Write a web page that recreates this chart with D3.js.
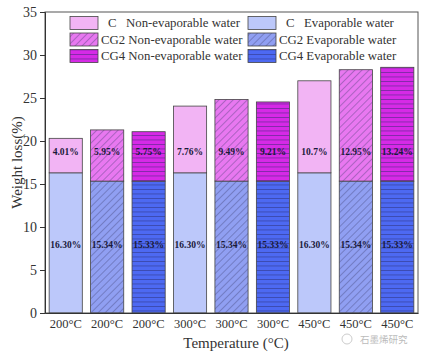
<!DOCTYPE html>
<html><head><meta charset="utf-8">
<script src="https://cdn.jsdelivr.net/npm/d3@7/dist/d3.min.js"></script>
<style>body{margin:0;background:#fff;} svg{display:block;}</style>
</head><body>
<svg id="c" width="423" height="357"></svg>
<script>
const categories = ["200°C","200°C","200°C","300°C","300°C","300°C","450°C","450°C","450°C"];
const groups = ["C","CG2","CG4","C","CG2","CG4","C","CG2","CG4"];
const evaporable = [16.30,15.34,15.33,16.30,15.34,15.33,16.30,15.34,15.33];
const nonEvaporable = [4.01,5.95,5.75,7.76,9.49,9.21,10.7,12.95,13.24];
const nonLabels = ["4.01%","5.95%","5.75%","7.76%","9.49%","9.21%","10.7%","12.95%","13.24%"];
const evapLabels = ["16.30%","15.34%","15.33%","16.30%","15.34%","15.33%","16.30%","15.34%","15.33%"];
const yTicks = [0,5,10,15,20,25,30,35];
const legendItems = [
  {g:"C",type:"non",desc:"Non-evaporable water"},
  {g:"C",type:"evap",desc:"Evaporable water"},
  {g:"CG2",type:"non",desc:"Non-evaporable water"},
  {g:"CG2",type:"evap",desc:"Evaporable water"},
  {g:"CG4",type:"non",desc:"Non-evaporable water"},
  {g:"CG4",type:"evap",desc:"Evaporable water"}
];

const colors = {
  C:{non:"#f2b4f4",evap:"#bcc8fa"},
  CG2:{non:"#e878f0",evap:"#909ff2"},
  CG4:{non:"#d62ae6",evap:"#4d69f2"}
};

const svg = d3.select("#c");
const m = {l:45,r:5,t:12,b:44};
const W = 423, H = 357;
const x = d3.scaleBand().domain(d3.range(categories.length)).range([m.l, W-m.r]).paddingInner(0.2).paddingOuter(0.1);
const y = d3.scaleLinear().domain([0,35]).range([H-m.b, m.t]);

const defs = svg.append("defs");
function pattern(id, bg, type){
  const sz = type==="diag"?5:4.5;
  const p = defs.append("pattern").attr("id",id).attr("patternUnits","userSpaceOnUse")
    .attr("width",sz).attr("height",sz);
  if(type==="diag") p.attr("patternTransform","rotate(45)");
  p.append("rect").attr("width",sz).attr("height",sz).attr("fill",bg);
  if(type==="diag"){
    p.append("line").attr("x1",0).attr("y1",0).attr("x2",0).attr("y2",sz).attr("stroke","#3a3a6a").attr("stroke-width",0.7);
  } else {
    p.append("line").attr("x1",0).attr("y1",0).attr("x2",sz).attr("y2",0).attr("stroke","#2a2a6a").attr("stroke-width",0.9);
  }
}
pattern("p-CG2-non",colors.CG2.non,"diag");
pattern("p-CG2-evap",colors.CG2.evap,"diag");
pattern("p-CG4-non",colors.CG4.non,"horiz");
pattern("p-CG4-evap",colors.CG4.evap,"horiz");
function fillFor(g,t){ return g==="C" ? colors.C[t] : `url(#p-${g}-${t})`; }

const bars = svg.append("g");
categories.forEach((c,i)=>{
  const g = groups[i];
  bars.append("rect").attr("x",x(i)).attr("width",x.bandwidth())
    .attr("y",y(evaporable[i])).attr("height",y(0)-y(evaporable[i]))
    .attr("fill",fillFor(g,"evap")).attr("stroke","#444").attr("stroke-width",0.8);
  bars.append("rect").attr("x",x(i)).attr("width",x.bandwidth())
    .attr("y",y(evaporable[i]+nonEvaporable[i])).attr("height",y(evaporable[i])-y(evaporable[i]+nonEvaporable[i]))
    .attr("fill",fillFor(g,"non")).attr("stroke","#444").attr("stroke-width",0.8);
  bars.append("text").attr("x",x(i)+x.bandwidth()/2).attr("y",y(18.8)).attr("dy","0.35em")
    .attr("text-anchor","middle").attr("font-family","Liberation Serif, serif").attr("font-weight","bold")
    .attr("font-size",9.5).attr("fill","#1a1a3a").text(nonLabels[i]);
  bars.append("text").attr("x",x(i)+x.bandwidth()/2).attr("y",y(7.9)).attr("dy","0.35em")
    .attr("text-anchor","middle").attr("font-family","Liberation Serif, serif").attr("font-weight","bold")
    .attr("font-size",9.5).attr("fill","#1a1a3a").text(evapLabels[i]);
});

// frame
svg.append("rect").attr("x",m.l).attr("y",m.t).attr("width",W-m.r-m.l).attr("height",y(0)-m.t)
  .attr("fill","none").attr("stroke","#555").attr("stroke-width",1);

const ya = svg.append("g").attr("transform",`translate(${m.l},0)`)
  .call(d3.axisLeft(y).tickValues(yTicks).tickSize(5).tickPadding(3));
ya.select(".domain").attr("stroke","#333");
ya.selectAll("line").attr("stroke","#333");
ya.selectAll("text").attr("font-family","Liberation Serif, serif").attr("font-size",14).attr("fill","#333");

const xa = svg.append("g").attr("transform",`translate(0,${y(0)})`)
  .call(d3.axisBottom(x).tickFormat(i=>categories[i]).tickSize(0).tickPadding(6));
xa.select(".domain").attr("stroke","#333");
xa.selectAll("text").attr("font-family","Liberation Serif, serif").attr("font-size",12.5).attr("fill","#333");

svg.append("text").attr("transform",`translate(17,${(m.t+y(0))/2}) rotate(-90)`)
  .attr("text-anchor","middle").attr("dy","0.35em").attr("font-family","Liberation Serif, serif")
  .attr("font-size",15).attr("fill","#333").text("Weight loss(%)");
svg.append("text").attr("x",236).attr("y",348).attr("text-anchor","middle")
  .attr("font-family","Liberation Serif, serif").attr("font-size",15).attr("fill","#333").text("Temperature (°C)");

// legend
const lg = svg.append("g");
legendItems.forEach((d,k)=>{
  const col = k%2, row = Math.floor(k/2);
  const lx = col===0 ? 70 : 248, ly = 16.5 + row*16.5;
  lg.append("rect").attr("x",lx).attr("y",ly).attr("width",28).attr("height",13)
    .attr("fill",fillFor(d.g,d.type)).attr("stroke","#444").attr("stroke-width",0.8);
  const t = lg.append("text").attr("y",ly+6.5).attr("dy","0.35em")
    .attr("font-family","Liberation Serif, serif").attr("font-size",12.8).attr("fill","#333");
  if(d.g==="C"){
    t.append("tspan").attr("x",lx+38).text("C");
    t.append("tspan").attr("x",lx+56).text(d.desc);
  } else {
    t.append("tspan").attr("x",lx+31).text(d.g + " " + d.desc);
  }
});

// watermark
svg.append("circle").attr("cx",347).attr("cy",339).attr("r",5).attr("fill","none").attr("stroke","#ccc").attr("stroke-width",1);
svg.append("text").attr("x",360).attr("y",343).attr("font-family","Noto Sans CJK SC, sans-serif")
  .attr("font-size",9.5).attr("fill","#bbb").text("石墨烯研究");
</script>
</body></html>
